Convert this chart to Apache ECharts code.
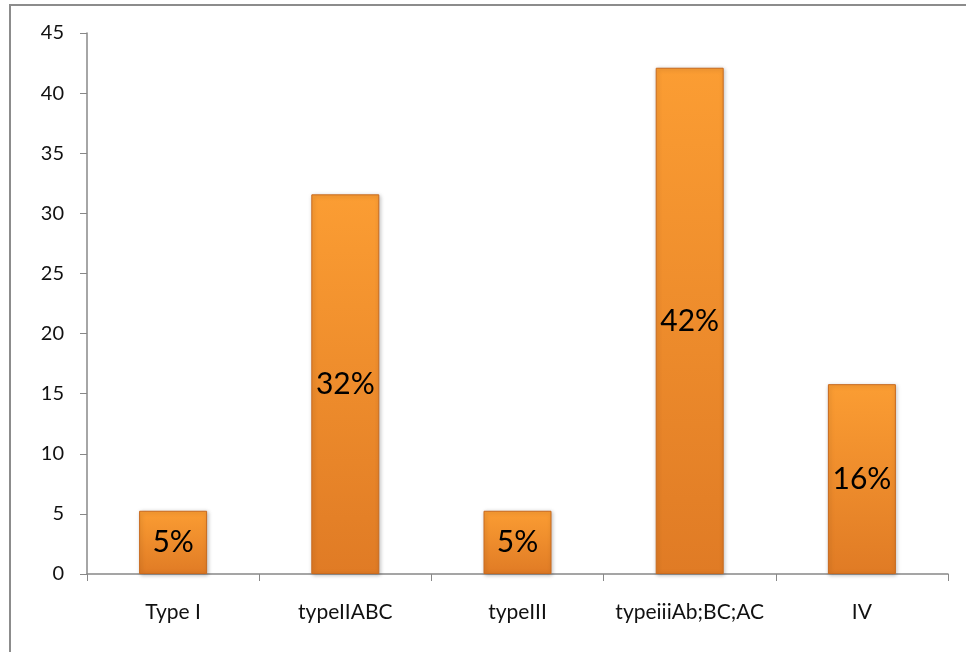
<!DOCTYPE html>
<html>
<head>
<meta charset="utf-8">
<style>
  html, body { margin: 0; padding: 0; background: #fff; }
  #chart { width: 966px; height: 652px; }
</style>
<script src="https://cdn.jsdelivr.net/npm/echarts@6/dist/echarts.min.js"></script>
</head>
<body>
<div id="chart"></div>
<script>
// 数据
const categories = ['Type I', 'typeIIABC', 'typeIII', 'typeiiiAb;BC;AC', 'IV']
const values = [5.26, 31.58, 5.26, 42.11, 15.79]
const percentLabels = ['5%', '32%', '5%', '42%', '16%']

let myEcharts = echarts.init(document.getElementById('chart'))
let option = {
  animation: false,
  textStyle: { fontFamily: 'Lato, "Open Sans", sans-serif' },
  graphic: [
    {
      type: 'rect',
      shape: { x: 10, y: 5, width: 980, height: 680 },
      style: { fill: 'none', stroke: '#8c8c8c', lineWidth: 2 },
      silent: true
    }
  ],
  grid: { left: 87, right: 18, top: 33, bottom: 78 },
  xAxis: {
    type: 'category',
    data: categories,
    axisLine: { lineStyle: { color: '#888', width: 1.5 } },
    axisTick: { show: true, length: 7, lineStyle: { color: '#888' } },
    axisLabel: { color: '#111', fontSize: 21, margin: 28, interval: 0 }
  },
  yAxis: {
    type: 'value',
    min: 0,
    max: 45,
    interval: 5,
    splitLine: { show: false },
    axisLine: { show: true, lineStyle: { color: '#888', width: 1.5 } },
    axisTick: { show: true, length: 7, lineStyle: { color: '#888' } },
    axisLabel: { color: '#111', fontSize: 20, margin: 23 }
  },
  series: [
    {
      type: 'bar',
      data: values,
      barWidth: 68,
      itemStyle: {
        color: new echarts.graphic.LinearGradient(0, 0, 0, 1, [
          { offset: 0, color: '#fb9d33' },
          { offset: 1, color: '#e07b25' }
        ]),
        borderColor: '#c96a1e',
        borderWidth: 1,
        shadowBlur: 4,
        shadowColor: 'rgba(0,0,0,0.25)',
        shadowOffsetX: 1,
        shadowOffsetY: 1
      },
      label: {
        show: true,
        position: 'inside',
        color: '#000',
        fontSize: 30,
        formatter(params) {
          return percentLabels[params.dataIndex]
        }
      }
    }
  ]
}
option && myEcharts.setOption(option)
</script>
</body>
</html>
